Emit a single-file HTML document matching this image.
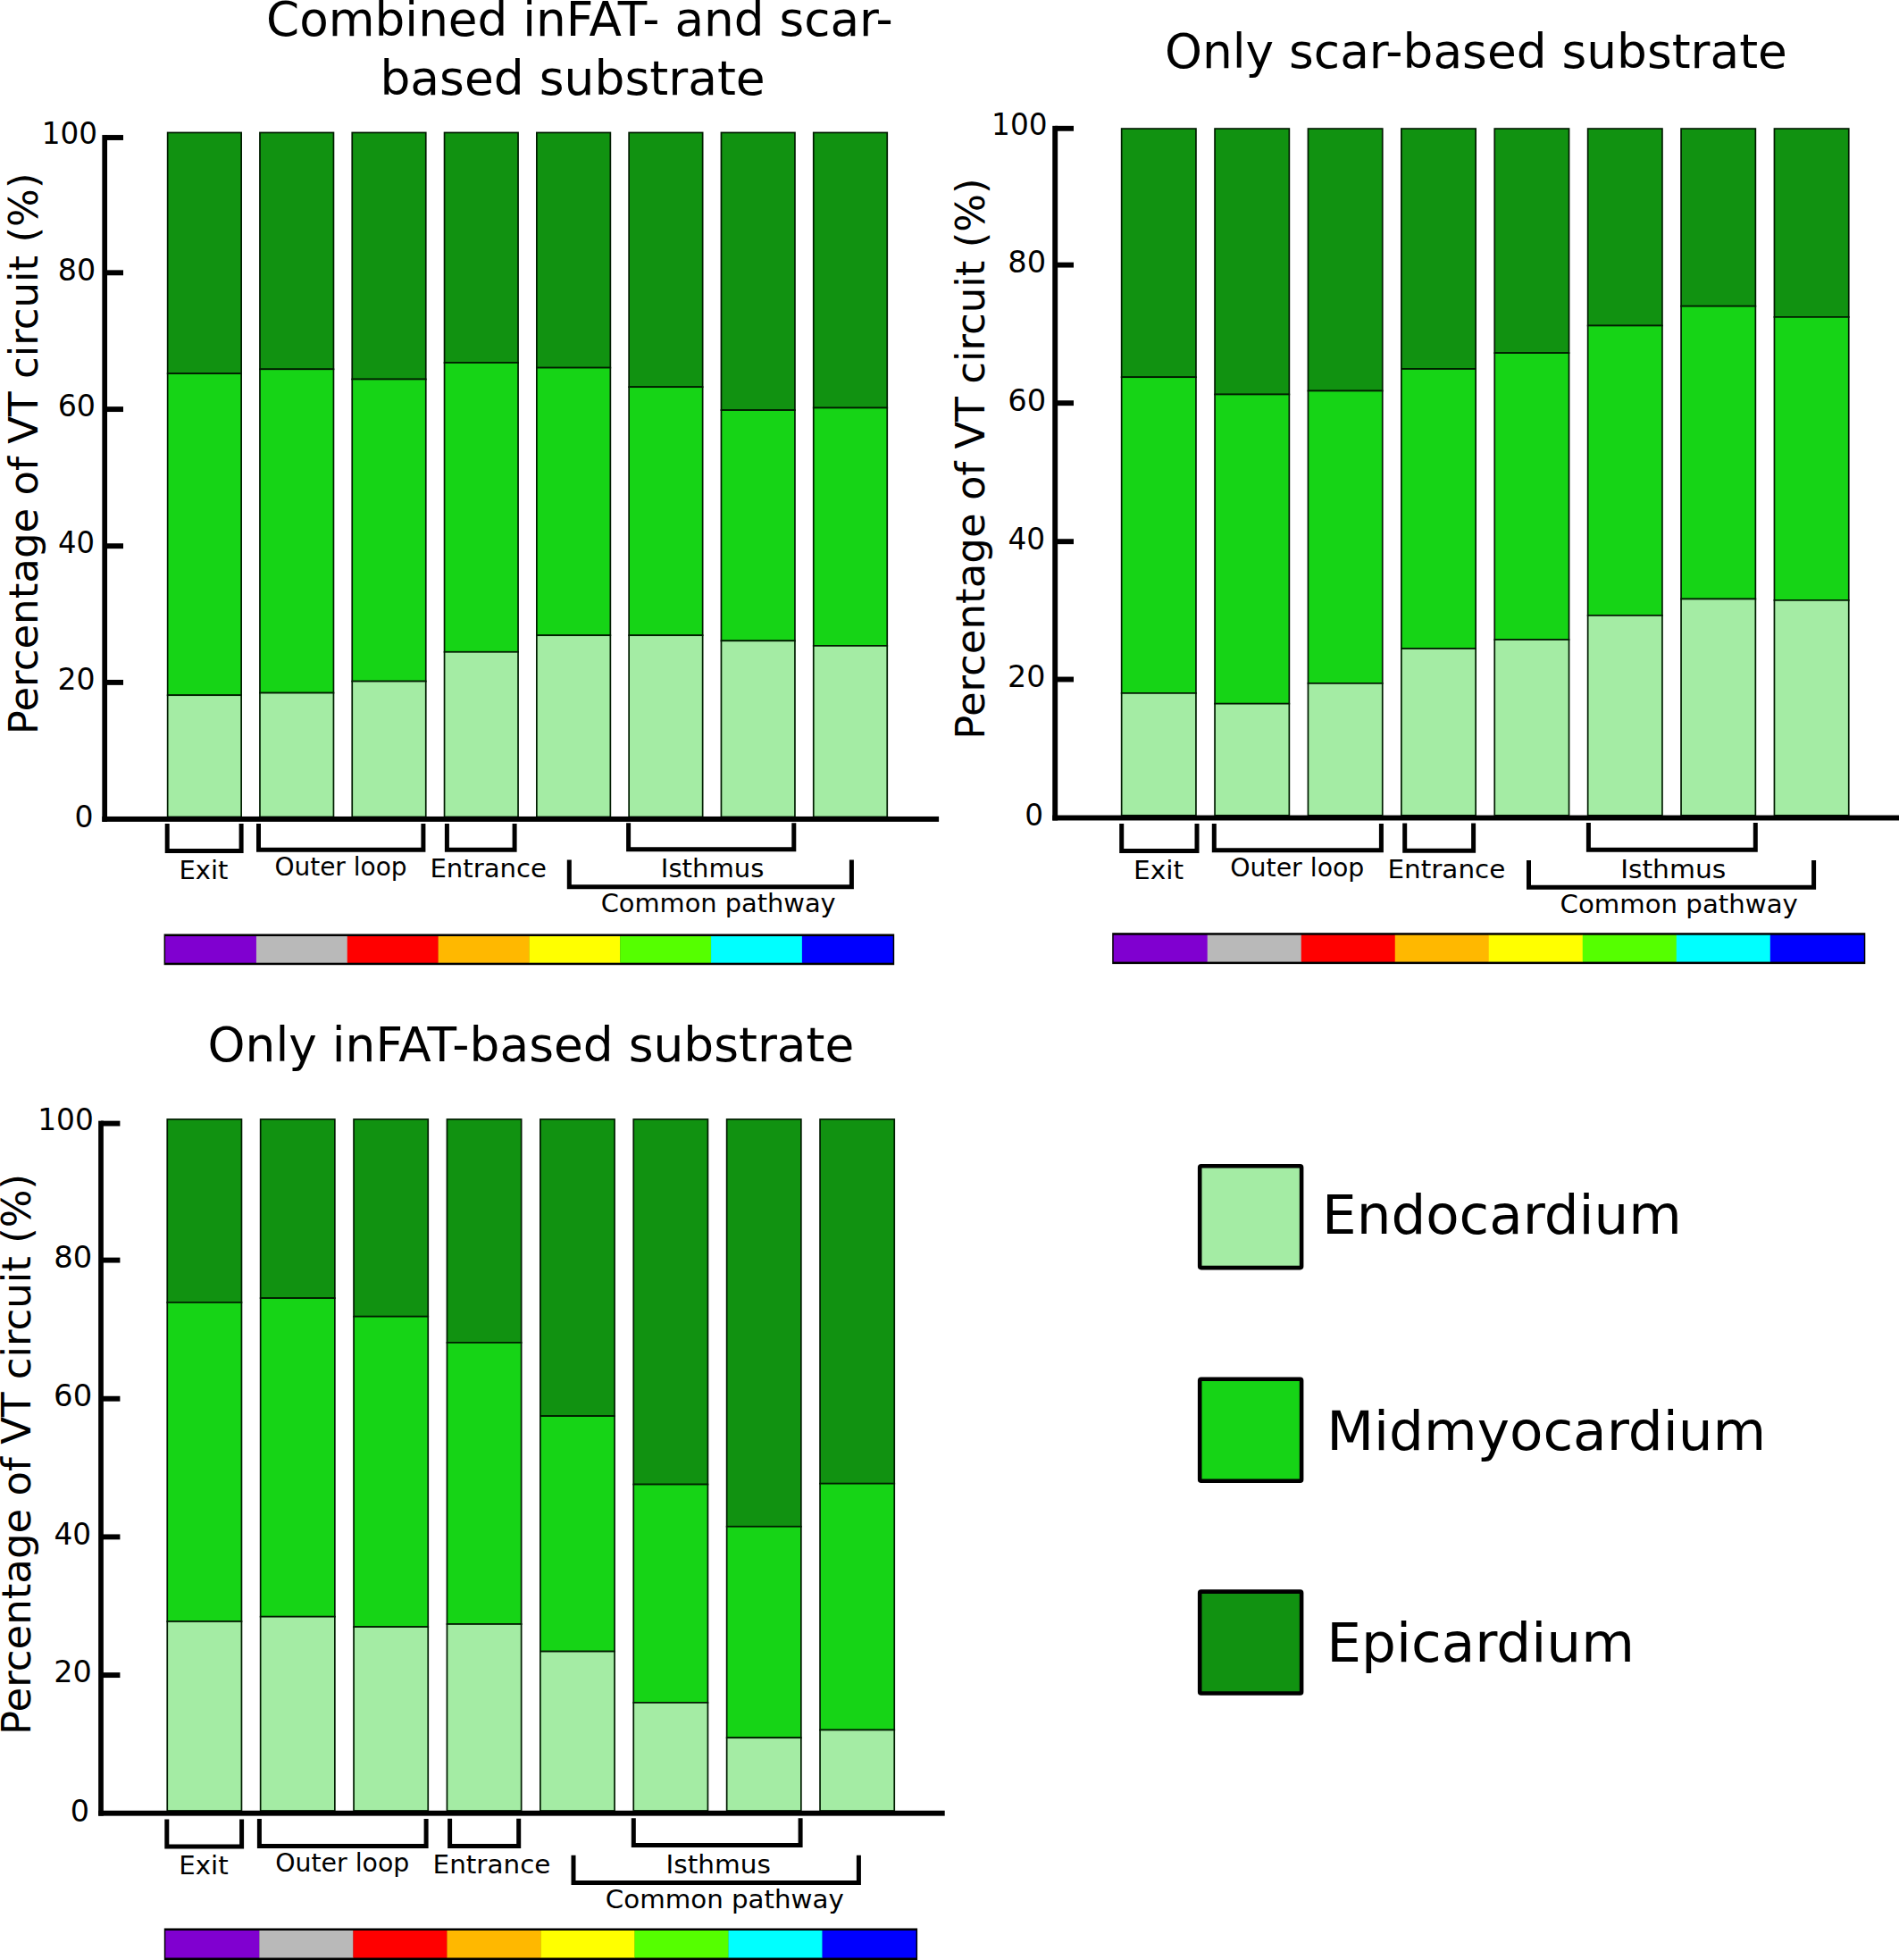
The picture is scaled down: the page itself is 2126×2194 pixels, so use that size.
<!DOCTYPE html>
<html lang="en"><head><meta charset="utf-8"><title>Percentage of VT circuit by myocardial layer</title>
<style>
html,body{margin:0;padding:0;background:#fff}
body{width:2126px;height:2194px;overflow:hidden}
svg{display:block}
text{font-family:"DejaVu Sans","Liberation Sans",sans-serif;fill:#000}
</style></head><body>
<svg width="2126" height="2194" viewBox="0 0 2126 2194">
<rect width="2126" height="2194" fill="#fff"/>
<rect x="187.65" y="148.45" width="82.50" height="269.65" fill="#119211" stroke="#011c01" stroke-width="1.7"/>
<rect x="187.65" y="418.10" width="82.50" height="360.10" fill="#16d416" stroke="#011c01" stroke-width="1.7"/>
<rect x="187.65" y="778.20" width="82.50" height="136.30" fill="#a4eca4" stroke="#011c01" stroke-width="1.7"/>
<rect x="290.95" y="148.45" width="82.50" height="264.85" fill="#119211" stroke="#011c01" stroke-width="1.7"/>
<rect x="290.95" y="413.30" width="82.50" height="362.30" fill="#16d416" stroke="#011c01" stroke-width="1.7"/>
<rect x="290.95" y="775.60" width="82.50" height="138.90" fill="#a4eca4" stroke="#011c01" stroke-width="1.7"/>
<rect x="394.25" y="148.45" width="82.50" height="276.05" fill="#119211" stroke="#011c01" stroke-width="1.7"/>
<rect x="394.25" y="424.50" width="82.50" height="338.10" fill="#16d416" stroke="#011c01" stroke-width="1.7"/>
<rect x="394.25" y="762.60" width="82.50" height="151.90" fill="#a4eca4" stroke="#011c01" stroke-width="1.7"/>
<rect x="497.55" y="148.45" width="82.50" height="257.55" fill="#119211" stroke="#011c01" stroke-width="1.7"/>
<rect x="497.55" y="406.00" width="82.50" height="323.80" fill="#16d416" stroke="#011c01" stroke-width="1.7"/>
<rect x="497.55" y="729.80" width="82.50" height="184.70" fill="#a4eca4" stroke="#011c01" stroke-width="1.7"/>
<rect x="600.85" y="148.45" width="82.50" height="263.15" fill="#119211" stroke="#011c01" stroke-width="1.7"/>
<rect x="600.85" y="411.60" width="82.50" height="299.60" fill="#16d416" stroke="#011c01" stroke-width="1.7"/>
<rect x="600.85" y="711.20" width="82.50" height="203.30" fill="#a4eca4" stroke="#011c01" stroke-width="1.7"/>
<rect x="704.15" y="148.45" width="82.50" height="284.75" fill="#119211" stroke="#011c01" stroke-width="1.7"/>
<rect x="704.15" y="433.20" width="82.50" height="278.00" fill="#16d416" stroke="#011c01" stroke-width="1.7"/>
<rect x="704.15" y="711.20" width="82.50" height="203.30" fill="#a4eca4" stroke="#011c01" stroke-width="1.7"/>
<rect x="807.45" y="148.45" width="82.50" height="310.65" fill="#119211" stroke="#011c01" stroke-width="1.7"/>
<rect x="807.45" y="459.10" width="82.50" height="258.20" fill="#16d416" stroke="#011c01" stroke-width="1.7"/>
<rect x="807.45" y="717.30" width="82.50" height="197.20" fill="#a4eca4" stroke="#011c01" stroke-width="1.7"/>
<rect x="910.75" y="148.45" width="82.50" height="308.05" fill="#119211" stroke="#011c01" stroke-width="1.7"/>
<rect x="910.75" y="456.50" width="82.50" height="266.40" fill="#16d416" stroke="#011c01" stroke-width="1.7"/>
<rect x="910.75" y="722.90" width="82.50" height="191.60" fill="#a4eca4" stroke="#011c01" stroke-width="1.7"/>
<rect x="114.35" y="151.05" width="5.70" height="768.80" fill="#000"/>
<rect x="114.35" y="913.95" width="936.75" height="5.90" fill="#000"/>
<rect x="117.20" y="151.05" width="20.80" height="5.90" fill="#000"/>
<rect x="117.20" y="302.35" width="20.80" height="5.90" fill="#000"/>
<rect x="117.20" y="455.15" width="20.80" height="5.90" fill="#000"/>
<rect x="117.20" y="608.25" width="20.80" height="5.90" fill="#000"/>
<rect x="117.20" y="760.95" width="20.80" height="5.90" fill="#000"/>
<text transform="translate(46.69 160.59) scale(0.9749 1)" font-size="33.5" >100</text>
<text transform="translate(64.72 313.59) scale(0.9933 1)" font-size="33.5" >80</text>
<text transform="translate(64.65 466.49) scale(0.9950 1)" font-size="33.5" >60</text>
<text transform="translate(65.00 619.39) scale(0.9615 1)" font-size="33.5" >40</text>
<text transform="translate(64.53 771.89) scale(0.9880 1)" font-size="33.5" >20</text>
<text transform="translate(83.60 925.79) scale(0.9871 1)" font-size="33.5" >0</text>
<path d="M187.20 922.00V952.50H270.10V922.00" fill="none" stroke="#000" stroke-width="5.0" stroke-linejoin="miter" stroke-linecap="butt"/>
<path d="M289.50 922.00V951.30H473.90V922.00" fill="none" stroke="#000" stroke-width="5.0" stroke-linejoin="miter" stroke-linecap="butt"/>
<path d="M500.40 922.00V951.30H576.10V922.00" fill="none" stroke="#000" stroke-width="5.0" stroke-linejoin="miter" stroke-linecap="butt"/>
<path d="M703.60 921.20V950.70H888.80V921.20" fill="none" stroke="#000" stroke-width="5.0" stroke-linejoin="miter" stroke-linecap="butt"/>
<path d="M637.30 962.50V992.70H953.40V962.50" fill="none" stroke="#000" stroke-width="5.0" stroke-linejoin="miter" stroke-linecap="butt"/>
<text transform="translate(200.51 983.50) scale(1.0286 1)" font-size="28.2" >Exit</text>
<text transform="translate(307.38 979.60) scale(0.9932 1)" font-size="28.2" >Outer loop</text>
<text transform="translate(481.39 982.30) scale(1.0343 1)" font-size="28.2" >Entrance</text>
<text transform="translate(739.80 981.60) scale(1.0328 1)" font-size="28.2" >Isthmus</text>
<text transform="translate(672.63 1021.00) scale(1.0239 1)" font-size="28.2" >Common pathway</text>
<rect x="183.60" y="1045.50" width="817.60" height="34.70" fill="#000"/>
<rect x="185.10" y="1048.00" width="102.12" height="29.70" fill="#8000d0"/>
<rect x="286.93" y="1048.00" width="102.12" height="29.70" fill="#b9b9b9"/>
<rect x="388.75" y="1048.00" width="102.12" height="29.70" fill="#ff0000"/>
<rect x="490.58" y="1048.00" width="102.12" height="29.70" fill="#ffb800"/>
<rect x="592.40" y="1048.00" width="102.12" height="29.70" fill="#ffff00"/>
<rect x="694.23" y="1048.00" width="102.12" height="29.70" fill="#55ff00"/>
<rect x="796.05" y="1048.00" width="102.12" height="29.70" fill="#00ffff"/>
<rect x="897.88" y="1048.00" width="101.83" height="29.70" fill="#0000ff"/>
<text transform="translate(41.80 822.16) rotate(-90) scale(1.0146 1)" font-size="44.4">Percentage of VT circuit (%)</text>
<text transform="translate(298.07 39.60) scale(1.0136 1)" font-size="52.5" >Combined inFAT- and scar-</text>
<text transform="translate(425.44 106.20) scale(1.0182 1)" font-size="52.5" >based substrate</text>
<rect x="1255.65" y="144.05" width="83.30" height="278.15" fill="#119211" stroke="#011c01" stroke-width="1.7"/>
<rect x="1255.65" y="422.20" width="83.30" height="353.70" fill="#16d416" stroke="#011c01" stroke-width="1.7"/>
<rect x="1255.65" y="775.90" width="83.30" height="136.90" fill="#a4eca4" stroke="#011c01" stroke-width="1.7"/>
<rect x="1360.05" y="144.05" width="83.30" height="297.45" fill="#119211" stroke="#011c01" stroke-width="1.7"/>
<rect x="1360.05" y="441.50" width="83.30" height="346.20" fill="#16d416" stroke="#011c01" stroke-width="1.7"/>
<rect x="1360.05" y="787.70" width="83.30" height="125.10" fill="#a4eca4" stroke="#011c01" stroke-width="1.7"/>
<rect x="1464.45" y="144.05" width="83.30" height="293.45" fill="#119211" stroke="#011c01" stroke-width="1.7"/>
<rect x="1464.45" y="437.50" width="83.30" height="327.40" fill="#16d416" stroke="#011c01" stroke-width="1.7"/>
<rect x="1464.45" y="764.90" width="83.30" height="147.90" fill="#a4eca4" stroke="#011c01" stroke-width="1.7"/>
<rect x="1568.85" y="144.05" width="83.30" height="268.95" fill="#119211" stroke="#011c01" stroke-width="1.7"/>
<rect x="1568.85" y="413.00" width="83.30" height="313.00" fill="#16d416" stroke="#011c01" stroke-width="1.7"/>
<rect x="1568.85" y="726.00" width="83.30" height="186.80" fill="#a4eca4" stroke="#011c01" stroke-width="1.7"/>
<rect x="1673.25" y="144.05" width="83.30" height="251.05" fill="#119211" stroke="#011c01" stroke-width="1.7"/>
<rect x="1673.25" y="395.10" width="83.30" height="320.90" fill="#16d416" stroke="#011c01" stroke-width="1.7"/>
<rect x="1673.25" y="716.00" width="83.30" height="196.80" fill="#a4eca4" stroke="#011c01" stroke-width="1.7"/>
<rect x="1777.65" y="144.05" width="83.30" height="220.45" fill="#119211" stroke="#011c01" stroke-width="1.7"/>
<rect x="1777.65" y="364.50" width="83.30" height="324.40" fill="#16d416" stroke="#011c01" stroke-width="1.7"/>
<rect x="1777.65" y="688.90" width="83.30" height="223.90" fill="#a4eca4" stroke="#011c01" stroke-width="1.7"/>
<rect x="1882.05" y="144.05" width="83.30" height="198.65" fill="#119211" stroke="#011c01" stroke-width="1.7"/>
<rect x="1882.05" y="342.70" width="83.30" height="327.80" fill="#16d416" stroke="#011c01" stroke-width="1.7"/>
<rect x="1882.05" y="670.50" width="83.30" height="242.30" fill="#a4eca4" stroke="#011c01" stroke-width="1.7"/>
<rect x="1986.45" y="144.05" width="83.30" height="210.85" fill="#119211" stroke="#011c01" stroke-width="1.7"/>
<rect x="1986.45" y="354.90" width="83.30" height="317.00" fill="#16d416" stroke="#011c01" stroke-width="1.7"/>
<rect x="1986.45" y="671.90" width="83.30" height="240.90" fill="#a4eca4" stroke="#011c01" stroke-width="1.7"/>
<rect x="1178.25" y="140.85" width="5.90" height="777.60" fill="#000"/>
<rect x="1178.25" y="912.55" width="947.75" height="5.90" fill="#000"/>
<rect x="1181.20" y="140.85" width="20.80" height="5.90" fill="#000"/>
<rect x="1181.20" y="293.65" width="20.80" height="5.90" fill="#000"/>
<rect x="1181.20" y="448.25" width="20.80" height="5.90" fill="#000"/>
<rect x="1181.20" y="603.25" width="20.80" height="5.90" fill="#000"/>
<rect x="1181.20" y="757.55" width="20.80" height="5.90" fill="#000"/>
<text transform="translate(1110.08 150.69) scale(0.9539 1)" font-size="34.3" >100</text>
<text transform="translate(1128.30 305.29) scale(0.9803 1)" font-size="34.3" >80</text>
<text transform="translate(1128.23 459.89) scale(0.9821 1)" font-size="34.3" >60</text>
<text transform="translate(1128.38 614.69) scale(0.9542 1)" font-size="34.3" >40</text>
<text transform="translate(1128.12 769.19) scale(0.9701 1)" font-size="34.3" >20</text>
<text transform="translate(1147.23 924.29) scale(0.9526 1)" font-size="34.3" >0</text>
<path d="M1255.70 922.00V952.40H1340.00V922.00" fill="none" stroke="#000" stroke-width="5.0" stroke-linejoin="miter" stroke-linecap="butt"/>
<path d="M1359.30 922.00V951.80H1546.40V922.00" fill="none" stroke="#000" stroke-width="5.0" stroke-linejoin="miter" stroke-linecap="butt"/>
<path d="M1572.70 921.60V952.20H1649.60V921.60" fill="none" stroke="#000" stroke-width="5.0" stroke-linejoin="miter" stroke-linecap="butt"/>
<path d="M1778.40 921.00V951.30H1965.30V921.00" fill="none" stroke="#000" stroke-width="5.0" stroke-linejoin="miter" stroke-linecap="butt"/>
<path d="M1711.50 963.00V993.30H2030.60V963.00" fill="none" stroke="#000" stroke-width="5.0" stroke-linejoin="miter" stroke-linecap="butt"/>
<text transform="translate(1269.05 984.00) scale(1.0340 1)" font-size="28.6" >Exit</text>
<text transform="translate(1377.26 980.90) scale(0.9922 1)" font-size="28.6" >Outer loop</text>
<text transform="translate(1553.46 983.30) scale(1.0296 1)" font-size="28.6" >Entrance</text>
<text transform="translate(1814.13 983.10) scale(1.0412 1)" font-size="28.6" >Isthmus</text>
<text transform="translate(1746.51 1022.20) scale(1.0216 1)" font-size="28.6" >Common pathway</text>
<rect x="1245.20" y="1044.20" width="843.10" height="34.90" fill="#000"/>
<rect x="1246.70" y="1046.70" width="105.31" height="29.90" fill="#8000d0"/>
<rect x="1351.71" y="1046.70" width="105.31" height="29.90" fill="#b9b9b9"/>
<rect x="1456.73" y="1046.70" width="105.31" height="29.90" fill="#ff0000"/>
<rect x="1561.74" y="1046.70" width="105.31" height="29.90" fill="#ffb800"/>
<rect x="1666.75" y="1046.70" width="105.31" height="29.90" fill="#ffff00"/>
<rect x="1771.76" y="1046.70" width="105.31" height="29.90" fill="#55ff00"/>
<rect x="1876.78" y="1046.70" width="105.31" height="29.90" fill="#00ffff"/>
<rect x="1981.79" y="1046.70" width="105.01" height="29.90" fill="#0000ff"/>
<text transform="translate(1102.00 827.66) rotate(-90) scale(1.0141 1)" font-size="44.4">Percentage of VT circuit (%)</text>
<text transform="translate(1303.96 75.70) scale(1.0160 1)" font-size="52.5" >Only scar-based substrate</text>
<rect x="187.25" y="1252.95" width="83.20" height="204.95" fill="#119211" stroke="#011c01" stroke-width="1.7"/>
<rect x="187.25" y="1457.90" width="83.20" height="357.10" fill="#16d416" stroke="#011c01" stroke-width="1.7"/>
<rect x="187.25" y="1815.00" width="83.20" height="212.00" fill="#a4eca4" stroke="#011c01" stroke-width="1.7"/>
<rect x="291.65" y="1252.95" width="83.20" height="200.15" fill="#119211" stroke="#011c01" stroke-width="1.7"/>
<rect x="291.65" y="1453.10" width="83.20" height="356.60" fill="#16d416" stroke="#011c01" stroke-width="1.7"/>
<rect x="291.65" y="1809.70" width="83.20" height="217.30" fill="#a4eca4" stroke="#011c01" stroke-width="1.7"/>
<rect x="396.05" y="1252.95" width="83.20" height="220.75" fill="#119211" stroke="#011c01" stroke-width="1.7"/>
<rect x="396.05" y="1473.70" width="83.20" height="347.40" fill="#16d416" stroke="#011c01" stroke-width="1.7"/>
<rect x="396.05" y="1821.10" width="83.20" height="205.90" fill="#a4eca4" stroke="#011c01" stroke-width="1.7"/>
<rect x="500.45" y="1252.95" width="83.20" height="249.95" fill="#119211" stroke="#011c01" stroke-width="1.7"/>
<rect x="500.45" y="1502.90" width="83.20" height="315.10" fill="#16d416" stroke="#011c01" stroke-width="1.7"/>
<rect x="500.45" y="1818.00" width="83.20" height="209.00" fill="#a4eca4" stroke="#011c01" stroke-width="1.7"/>
<rect x="604.85" y="1252.95" width="83.20" height="332.15" fill="#119211" stroke="#011c01" stroke-width="1.7"/>
<rect x="604.85" y="1585.10" width="83.20" height="263.50" fill="#16d416" stroke="#011c01" stroke-width="1.7"/>
<rect x="604.85" y="1848.60" width="83.20" height="178.40" fill="#a4eca4" stroke="#011c01" stroke-width="1.7"/>
<rect x="709.25" y="1252.95" width="83.20" height="408.65" fill="#119211" stroke="#011c01" stroke-width="1.7"/>
<rect x="709.25" y="1661.60" width="83.20" height="244.30" fill="#16d416" stroke="#011c01" stroke-width="1.7"/>
<rect x="709.25" y="1905.90" width="83.20" height="121.10" fill="#a4eca4" stroke="#011c01" stroke-width="1.7"/>
<rect x="813.65" y="1252.95" width="83.20" height="455.85" fill="#119211" stroke="#011c01" stroke-width="1.7"/>
<rect x="813.65" y="1708.80" width="83.20" height="236.40" fill="#16d416" stroke="#011c01" stroke-width="1.7"/>
<rect x="813.65" y="1945.20" width="83.20" height="81.80" fill="#a4eca4" stroke="#011c01" stroke-width="1.7"/>
<rect x="918.05" y="1252.95" width="83.20" height="407.75" fill="#119211" stroke="#011c01" stroke-width="1.7"/>
<rect x="918.05" y="1660.70" width="83.20" height="275.80" fill="#16d416" stroke="#011c01" stroke-width="1.7"/>
<rect x="918.05" y="1936.50" width="83.20" height="90.50" fill="#a4eca4" stroke="#011c01" stroke-width="1.7"/>
<rect x="110.15" y="1254.65" width="5.70" height="778.00" fill="#000"/>
<rect x="110.15" y="2026.75" width="947.55" height="5.90" fill="#000"/>
<rect x="113.00" y="1254.65" width="21.40" height="5.90" fill="#000"/>
<rect x="113.00" y="1407.65" width="21.40" height="5.90" fill="#000"/>
<rect x="113.00" y="1562.75" width="21.40" height="5.90" fill="#000"/>
<rect x="113.00" y="1717.45" width="21.40" height="5.90" fill="#000"/>
<rect x="113.00" y="1872.15" width="21.40" height="5.90" fill="#000"/>
<text transform="translate(42.17 1264.59) scale(0.9572 1)" font-size="34.3" >100</text>
<text transform="translate(60.19 1419.29) scale(0.9855 1)" font-size="34.3" >80</text>
<text transform="translate(60.11 1574.29) scale(0.9872 1)" font-size="34.3" >60</text>
<text transform="translate(60.48 1728.69) scale(0.9542 1)" font-size="34.3" >40</text>
<text transform="translate(60.21 1883.29) scale(0.9752 1)" font-size="34.3" >20</text>
<text transform="translate(78.87 2038.59) scale(0.9757 1)" font-size="34.3" >0</text>
<path d="M186.80 2036.40V2066.90H270.60V2036.40" fill="none" stroke="#000" stroke-width="5.0" stroke-linejoin="miter" stroke-linecap="butt"/>
<path d="M290.40 2035.90V2066.50H477.10V2035.90" fill="none" stroke="#000" stroke-width="5.0" stroke-linejoin="miter" stroke-linecap="butt"/>
<path d="M503.60 2035.70V2066.50H580.70V2035.70" fill="none" stroke="#000" stroke-width="5.0" stroke-linejoin="miter" stroke-linecap="butt"/>
<path d="M709.30 2035.30V2065.50H896.10V2035.30" fill="none" stroke="#000" stroke-width="5.0" stroke-linejoin="miter" stroke-linecap="butt"/>
<path d="M642.00 2076.70V2107.60H961.40V2076.70" fill="none" stroke="#000" stroke-width="5.0" stroke-linejoin="miter" stroke-linecap="butt"/>
<text transform="translate(200.18 2098.10) scale(1.0241 1)" font-size="28.6" >Exit</text>
<text transform="translate(308.16 2095.00) scale(0.9922 1)" font-size="28.6" >Outer loop</text>
<text transform="translate(484.56 2097.40) scale(1.0296 1)" font-size="28.6" >Entrance</text>
<text transform="translate(745.55 2096.80) scale(1.0339 1)" font-size="28.6" >Isthmus</text>
<text transform="translate(677.81 2136.40) scale(1.0247 1)" font-size="28.6" >Common pathway</text>
<rect x="183.80" y="2158.50" width="843.30" height="35.50" fill="#000"/>
<rect x="185.30" y="2161.00" width="105.34" height="30.50" fill="#8000d0"/>
<rect x="290.34" y="2161.00" width="105.34" height="30.50" fill="#b9b9b9"/>
<rect x="395.38" y="2161.00" width="105.34" height="30.50" fill="#ff0000"/>
<rect x="500.41" y="2161.00" width="105.34" height="30.50" fill="#ffb800"/>
<rect x="605.45" y="2161.00" width="105.34" height="30.50" fill="#ffff00"/>
<rect x="710.49" y="2161.00" width="105.34" height="30.50" fill="#55ff00"/>
<rect x="815.52" y="2161.00" width="105.34" height="30.50" fill="#00ffff"/>
<rect x="920.56" y="2161.00" width="105.04" height="30.50" fill="#0000ff"/>
<text transform="translate(33.70 1942.06) rotate(-90) scale(1.0140 1)" font-size="44.4">Percentage of VT circuit (%)</text>
<text transform="translate(232.56 1187.90) scale(1.0168 1)" font-size="52.5" >Only inFAT-based substrate</text>
<rect x="1343.20" y="1305.20" width="113.90" height="113.90" rx="1.5" fill="#a4eca4" stroke="#000" stroke-width="4.6" stroke-linejoin="round"/>
<text transform="translate(1480.06 1381.20) scale(1.0189 1)" font-size="60.0" >Endocardium</text>
<rect x="1343.20" y="1543.80" width="113.90" height="113.90" rx="1.5" fill="#16d416" stroke="#000" stroke-width="4.6" stroke-linejoin="round"/>
<text transform="translate(1485.24 1622.60) scale(1.0213 1)" font-size="60.0" >Midmyocardium</text>
<rect x="1343.20" y="1781.60" width="113.90" height="113.90" rx="1.5" fill="#119211" stroke="#000" stroke-width="4.6" stroke-linejoin="round"/>
<text transform="translate(1485.24 1860.00) scale(1.0222 1)" font-size="60.0" >Epicardium</text>
</svg>
</body></html>
